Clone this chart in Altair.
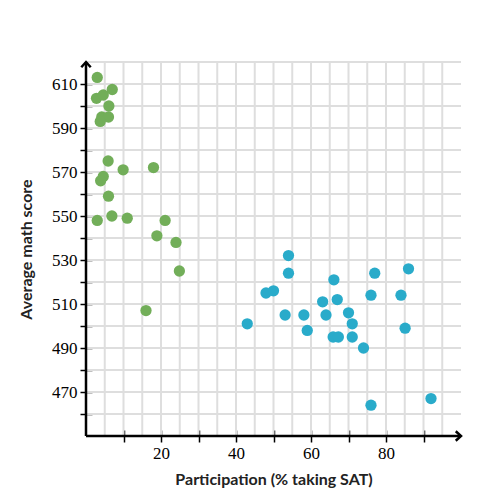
import altair as alt
import pandas as pd

# ---- data ----
green_x = [3, 7, 2.8, 4.6, 6.1, 4.2, 6.0, 3.8, 5.9, 9.9, 18, 4.6, 3.9, 6.0, 3.0, 6.9, 11, 21.1, 18.9, 24, 24.9, 16]
green_y = [613, 607.5, 603.5, 605, 600, 595, 595, 593, 575, 571, 572, 568, 566, 559, 548, 550, 549, 548, 541, 538, 525, 507]

blue_x = [54, 54, 48, 50, 43, 53.1, 58.1, 59, 66.1, 63.1, 67, 64, 70, 71, 65.9, 67.3, 71, 74, 77, 76, 86, 84, 85.1, 76, 92]
blue_y = [532, 524, 515, 516, 501, 505, 505, 498, 521, 511, 512, 505, 506, 501, 495, 495, 495, 490, 524, 514, 526, 514, 499, 464, 467]

x_domain = [0, 100]
y_domain = [450, 620]
x_ticks = [10, 20, 30, 40, 50, 60, 70, 80, 90]
y_ticks = [460, 470, 480, 490, 500, 510, 520, 530, 540, 550, 560, 570, 580, 590, 600, 610]
x_grid = [5, 10, 15, 20, 25, 30, 35, 40, 45, 50, 55, 60, 65, 70, 75, 80, 85, 90, 95]
y_grid = [460, 470, 480, 490, 500, 510, 520, 530, 540, 550, 560, 570, 580, 590, 600, 610, 620]

points = pd.DataFrame({
    "x": green_x + blue_x,
    "y": green_y + blue_y,
    "g": ["green"] * len(green_x) + ["blue"] * len(blue_x),
})

xs = alt.Scale(domain=x_domain, nice=False, zero=False)
ys = alt.Scale(domain=y_domain, nice=False, zero=False)

serif = "Liberation Serif"

xaxis = alt.Axis(
    values=x_ticks, labelExpr="datum.value % 20 == 0 ? datum.label : ''",
    tickSize=12, offset=-6, domain=False, grid=False, tickColor="black", tickWidth=1.5,
    labelFont=serif, labelFontSize=17, labelColor="black", labelPadding=3,
    labelOverlap=False,
    title="Participation (% taking SAT)", titleFont="Lato", titleFontSize=16,
    titleFontWeight="bold", titleColor="#222222", titlePadding=10,
)
yaxis = alt.Axis(
    values=y_ticks, labelExpr="(datum.value - 470) % 20 == 0 ? datum.label : ''",
    tickSize=12, offset=-6, domain=False, grid=False, tickColor="black", tickWidth=1.5,
    labelFont=serif, labelFontSize=17, labelColor="black", labelPadding=3,
    labelOverlap=False,
    title="Average math score", titleFont="Lato", titleFontSize=16,
    titleFontWeight="bold", titleColor="#222222", titlePadding=17,
)

X = alt.X("x:Q", scale=xs, axis=xaxis)
Y = alt.Y("y:Q", scale=ys, axis=yaxis)

grid_color = "#dedede"

vgrid = alt.Chart(pd.DataFrame({"x": x_grid, "y": y_domain[0], "y2": y_domain[1]})).mark_rule(
    color=grid_color, strokeWidth=2
).encode(x=X, y=Y, y2="y2:Q")

hgrid = alt.Chart(pd.DataFrame({"y": y_grid, "x": x_domain[0], "x2": x_domain[1]})).mark_rule(
    color=grid_color, strokeWidth=2
).encode(x=X, x2="x2:Q", y=Y)

xline = alt.Chart(pd.DataFrame({"x": [x_domain[0]], "x2": [x_domain[1]], "y": [y_domain[0]]})).mark_rule(
    color="black", strokeWidth=2.5
).encode(x=X, x2="x2:Q", y=Y)

yline = alt.Chart(pd.DataFrame({"x": [x_domain[0]], "y": [y_domain[0]], "y2": [y_domain[1]]})).mark_rule(
    color="black", strokeWidth=2.5
).encode(x=X, y=Y, y2="y2:Q")

up_arrow = alt.Chart(pd.DataFrame({"x": [x_domain[0]], "y": [y_domain[1]]})).mark_point(
    shape="M-0.9,1L0,0L0.9,1", size=110, filled=False, stroke="black", strokeWidth=2.5, opacity=1
).encode(x=X, y=Y)

right_arrow = alt.Chart(pd.DataFrame({"x": [x_domain[1]], "y": [y_domain[0]]})).mark_point(
    shape="M-1,-0.9L0,0L-1,0.9", size=110, filled=False, stroke="black", strokeWidth=2.5, opacity=1
).encode(x=X, y=Y)

dots = alt.Chart(points).mark_circle(size=127, opacity=1).encode(
    x=X, y=Y,
    color=alt.Color("g:N", scale=alt.Scale(domain=["green", "blue"], range=["#72ae59", "#29abca"]), legend=None),
)

chart = alt.layer(vgrid, hgrid, xline, yline, up_arrow, right_arrow, dots).properties(
    width=375, height=374,
    autosize=alt.AutoSizeParams(type="none"),
    padding={"left": 78, "top": 54, "right": 16, "bottom": 64},
    background="white",
).configure_view(stroke=None)

chart.save("out.html", embed_options={"renderer": "svg", "actions": False})
